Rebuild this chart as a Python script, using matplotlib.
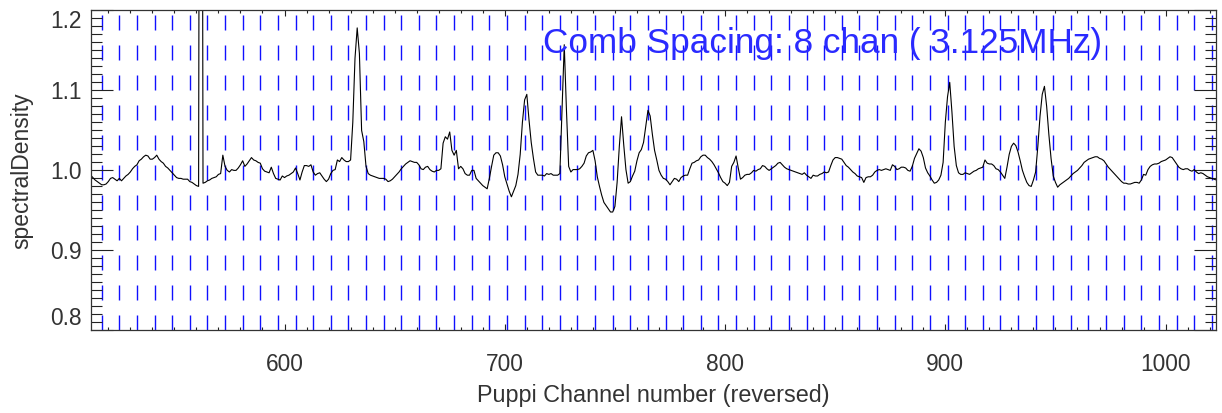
import matplotlib
matplotlib.use('Agg')
import matplotlib.pyplot as plt
from matplotlib.ticker import MultipleLocator
import numpy as np

plt.rcParams['font.family'] = ['Liberation Sans', 'DejaVu Sans']

# channel range and comb
first_chan = 512
last_chan = 1023
comb_start = 517
comb_spacing = 8
comb_label = 'Comb Spacing: 8 chan ( 3.125MHz)'

# spectral density, one value per channel (512..1023)
density = [
    0.994, 0.991, 0.988, 0.986, 0.984, 0.982, 0.982, 0.983, 0.986, 0.990,
    0.991, 0.989, 0.987, 0.990, 0.987, 0.990, 0.993, 0.995, 0.998, 1.002,
    1.005, 1.007, 1.012, 1.014, 1.017, 1.019, 1.018, 1.014, 1.014, 1.016,
    1.019, 1.014, 1.011, 1.009, 1.005, 1.003, 1.000, 0.997, 0.994, 0.991,
    0.990, 0.990, 0.989, 0.989, 0.989, 0.986, 0.985, 0.983, 0.981, 0.980,
    2.500, 0.984, 0.985, 0.987, 0.988, 0.990, 0.991, 0.992, 0.995, 0.996,
    1.019, 1.005, 1.000, 0.998, 1.001, 1.000, 1.000, 1.003, 1.007, 1.012,
    1.005, 1.008, 1.012, 1.016, 1.013, 1.012, 1.010, 1.009, 1.002, 0.999,
    0.998, 0.997, 1.004, 0.996, 0.990, 0.989, 0.988, 0.993, 0.991, 0.993,
    0.994, 0.996, 0.998, 1.003, 0.996, 0.988, 0.998, 1.006, 1.006, 1.005,
    1.007, 0.998, 0.994, 0.996, 0.997, 0.993, 0.989, 0.986, 0.989, 0.996,
    1.000, 1.001, 1.013, 1.011, 1.016, 1.013, 1.011, 1.011, 1.013, 1.060,
    1.140, 1.178, 1.146, 1.050, 1.036, 1.005, 0.996, 0.994, 0.993, 0.992,
    0.991, 0.990, 0.990, 0.990, 0.989, 0.986, 0.987, 0.989, 0.992, 0.995,
    0.998, 1.002, 1.005, 1.008, 1.010, 1.012, 1.011, 1.010, 1.010, 1.007,
    1.002, 1.001, 1.004, 1.005, 1.001, 0.999, 0.998, 1.000, 1.000, 1.002,
    1.034, 1.042, 1.039, 1.048, 1.025, 1.019, 1.025, 1.002, 1.005, 1.002,
    0.996, 0.994, 0.994, 1.000, 1.000, 0.990, 0.987, 0.984, 0.981, 0.979,
    0.977, 0.990, 1.005, 1.019, 1.022, 1.022, 1.018, 1.007, 0.992, 0.983,
    0.974, 0.967, 0.974, 0.981, 0.995, 1.020, 1.060, 1.088, 1.095, 1.063,
    1.035, 1.015, 0.998, 0.994, 0.994, 0.994, 0.993, 0.996, 0.995, 0.996,
    0.994, 0.994, 0.994, 0.996, 1.075, 1.157, 1.075, 1.005, 0.998, 1.001,
    1.001, 1.001, 1.002, 1.005, 1.009, 1.018, 1.022, 1.023, 1.025, 1.012,
    0.992, 0.980, 0.969, 0.960, 0.956, 0.952, 0.948, 0.948, 0.955, 0.985,
    1.030, 1.067, 1.032, 1.001, 0.984, 0.986, 0.993, 0.999, 1.012, 1.022,
    1.026, 1.035, 1.055, 1.075, 1.068, 1.045, 1.025, 1.013, 1.000, 0.994,
    0.990, 0.989, 0.986, 0.982, 0.986, 0.990, 0.989, 0.986, 0.991, 0.993,
    0.994, 0.994, 1.002, 1.009, 1.010, 1.012, 1.013, 1.017, 1.019, 1.019,
    1.016, 1.014, 1.011, 1.007, 1.002, 0.997, 0.991, 0.986, 0.984, 0.981,
    0.985, 1.005, 1.010, 1.018, 1.003, 0.989, 0.991, 0.994, 0.995, 0.995,
    0.997, 1.000, 0.999, 1.001, 1.002, 1.006, 1.005, 1.002, 1.000, 1.002,
    1.004, 1.006, 1.009, 1.010, 1.007, 1.004, 1.002, 1.001, 1.000, 0.999,
    0.998, 0.997, 0.996, 0.995, 0.997, 0.994, 0.992, 0.990, 0.994, 0.993,
    0.993, 0.995, 0.996, 0.998, 0.997, 0.998, 1.006, 1.013, 1.016, 1.016,
    1.015, 1.014, 1.010, 1.006, 1.004, 1.001, 0.998, 0.996, 0.993, 0.992,
    0.991, 0.985, 0.991, 0.992, 0.992, 0.994, 0.998, 1.000, 1.001, 1.000,
    1.001, 1.002, 1.001, 1.000, 1.007, 1.005, 1.001, 1.002, 1.004, 1.004,
    1.003, 1.000, 0.999, 1.005, 1.015, 1.021, 1.027, 1.024, 1.016, 1.003,
    0.997, 0.993, 0.988, 0.984, 0.985, 0.988, 0.994, 1.010, 1.060, 1.092,
    1.110, 1.073, 1.030, 1.006, 0.997, 0.995, 0.995, 0.997, 0.996, 0.995,
    0.997, 0.999, 1.000, 1.002, 1.003, 1.004, 1.013, 1.009, 1.008, 1.008,
    1.006, 1.002, 1.001, 0.998, 0.994, 0.990, 1.004, 1.020, 1.030, 1.034,
    1.031, 1.023, 1.012, 1.000, 0.992, 0.985, 0.981, 0.980, 0.988, 0.998,
    1.030, 1.068, 1.095, 1.105, 1.080, 1.045, 1.015, 0.993, 0.985, 0.979,
    0.982, 0.984, 0.986, 0.988, 0.990, 0.993, 0.996, 0.998, 1.000, 1.003,
    1.006, 1.010, 1.012, 1.014, 1.015, 1.016, 1.017, 1.017, 1.015, 1.014,
    1.012, 1.008, 1.004, 1.001, 0.998, 0.995, 0.992, 0.989, 0.986, 0.984,
    0.984, 0.983, 0.983, 0.984, 0.985, 0.985, 0.984, 0.988, 0.995, 0.994,
    1.001, 1.005, 1.007, 1.008, 1.008, 1.009, 1.011, 1.012, 1.013, 1.015,
    1.017, 1.016, 1.012, 1.008, 1.004, 1.002, 1.001, 1.002, 1.002, 1.000,
    0.999, 1.001, 0.998, 0.996, 0.997, 0.996, 0.994, 0.992, 0.991, 0.990,
    0.989, 0.988,
]
channels = np.arange(first_chan, first_chan + len(density))
ymin, ymax = 0.8, 1.2

fig = plt.figure(figsize=(12.22, 4.13), dpi=100)
ax = fig.add_axes([0.0742, 0.1998, 0.9211, 0.7753])

# comb lines, every comb_spacing channels
comb = np.arange(comb_start, last_chan + 1, comb_spacing)
ax.vlines(comb, ymin, ymax, colors='#1010ff', linewidth=1.0,
          linestyles=[(0, (10.8, 10.8))], zorder=1)

ax.plot(channels, density, color='black', lw=0.8, zorder=2)

ax.set_xlim(first_chan, last_chan)
ax.set_ylim(ymin, ymax)

tc = '#333333'
ax.xaxis.set_major_locator(MultipleLocator(100))
ax.xaxis.set_minor_locator(MultipleLocator(10))
ax.yaxis.set_major_locator(MultipleLocator(0.1))
ax.yaxis.set_minor_locator(MultipleLocator(0.01))
ax.tick_params(axis='both', which='both', direction='in', top=True, right=True,
               color='#222222', width=0.8, labelcolor=tc, labelsize=16.4)
ax.tick_params(axis='y', which='major', length=15.8, pad=6.5)
ax.tick_params(axis='y', which='minor', length=7.9)
ax.tick_params(axis='x', which='major', length=4.6, pad=16)
ax.tick_params(axis='x', which='minor', length=2.3)
for s in ax.spines.values():
    s.set_color('#333333')
    s.set_linewidth(0.9)

# keep the edge labels inside the axis range
ax.set_yticks([0.8, 0.9, 1.0, 1.1, 1.2])
yt = ax.yaxis.get_major_ticks()
yt[0].label1.set_verticalalignment('bottom')
yt[-1].label1.set_verticalalignment('top')

ax.set_xlabel('Puppi Channel number (reversed)', fontsize=16.8, color=tc, labelpad=6)
ax.set_ylabel('spectralDensity', fontsize=16.5, color=tc, labelpad=12)

ax.text(0.4018, 0.8657, comb_label, transform=ax.transAxes, color='#2a2aff',
        fontsize=25.3, ha='left', va='baseline', zorder=3)

plt.savefig('out.png', dpi=100)
